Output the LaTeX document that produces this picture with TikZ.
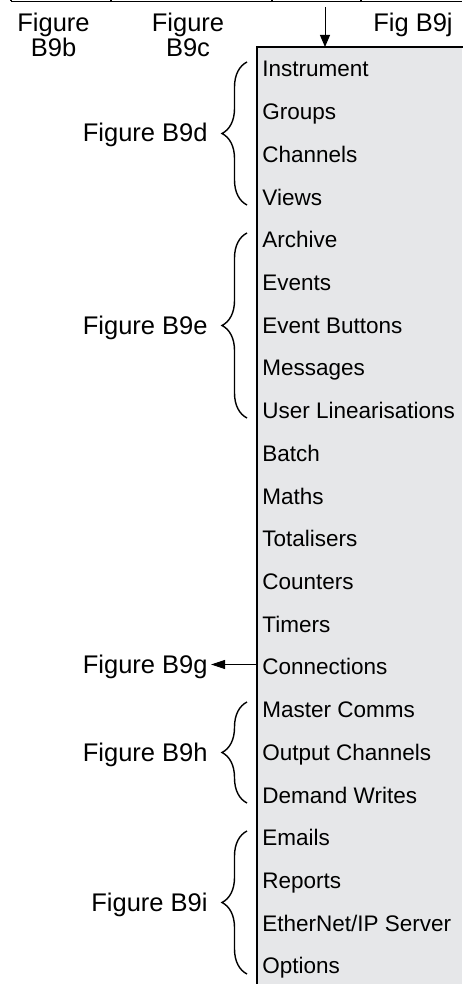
\documentclass[tikz,border=0pt]{standalone}
\usepackage{fontspec}
\setmainfont{Liberation Sans}
\usetikzlibrary{decorations.pathreplacing,arrows.meta}
\definecolor{boxgray}{RGB}{230,231,233}
\tikzset{
  item/.style={anchor=base west,inner sep=0pt,font=\fontsize{11.25}{13.5}\selectfont},
  fig/.style={anchor=base east,inner sep=0pt,font=\fontsize{12.75}{12.5}\selectfont},
  toplab/.style={anchor=base,inner sep=0pt,align=center,font=\fontsize{12.75}{12.5}\selectfont},
  brc/.style={draw,line width=0.7pt,decorate,decoration={brace,amplitude=12.5pt}},
  arr/.style={line width=0.5pt,-{Triangle[length=6pt,width=5pt]}},
}
\begin{document}
\begin{tikzpicture}[x=0.5pt,y=-0.5pt]
\useasboundingbox (0,0) rectangle (462,984);
% remnants of the table above
\draw[line width=0.6pt] (11,1.3) -- (462,1.3);
\foreach \tx in {11,111,272,361} \draw[line width=0.6pt] (\tx,0) -- (\tx,1.3);
% menu box
\node[anchor=north west,fill=boxgray,inner sep=0pt,minimum width=102.5pt,minimum height=468.5pt] (box) at (257,47) {};
\draw[line width=0.9pt] (box.north east) -- (box.north west) -- (box.south west);
% top labels
\node[toplab] (b9b) at (53.5,57) {Figure\\B9b};
\node[toplab] (b9c) at (188,57) {Figure\\B9c};
\node[toplab] (b9j) at (413,32) {Fig B9j};
\coordinate (topin) at (325,7);
\draw[arr] (topin) -- (topin |- box.north);
% items
\foreach \name/\txt [count=\k from 0] in {
  i0/Instrument, i1/Groups, i2/Channels, i3/Views, i4/Archive, i5/Events,
  i6/Event Buttons, i7/Messages, i8/User Linearisations, i9/Batch, i10/Maths,
  i11/Totalisers, i12/Counters, i13/Timers, i14/Connections, i15/Master Comms,
  i16/Output Channels, i17/Demand Writes, i18/Emails, i19/Reports,
  i20/{EtherNet/IP Server}, i21/Options}
  \node[item] (\name) at (262,{77+42.71*\k}) {\txt};
% braces and labels
\draw[brc] (247,205) -- (247,62);
\node[fig] (b9d) at (208,142) {Figure B9d};
\draw[brc] (247,418) -- (247,233);
\node[fig] (b9e) at (208,334.5) {Figure B9e};
\draw[brc] (247,803) -- (247,702);
\node[fig] (b9h) at (208,761.5) {Figure B9h};
\draw[brc] (247,974) -- (247,831);
\node[fig] (b9i) at (208,911.5) {Figure B9i};
% connections arrow
\node[fig] (b9g) at (208,673.5) {Figure B9g};
\coordinate (connL) at (257,664.5);
\draw[line width=0.5pt,-{Triangle[length=7pt,width=4.5pt]},shorten >=1.5pt] (connL) -- (b9g.east |- connL);
\end{tikzpicture}
\end{document}
